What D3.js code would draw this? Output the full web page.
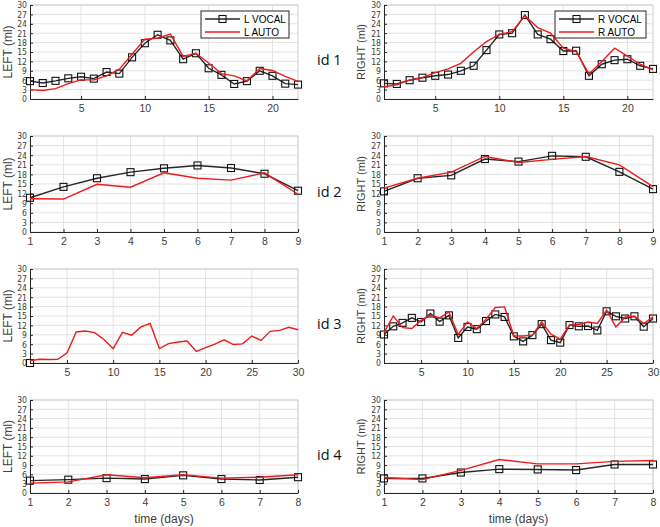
<!DOCTYPE html>
<html><head><meta charset="utf-8">
<script src="https://cdn.jsdelivr.net/npm/d3@7"></script>
<style>body{margin:0;background:#fff}svg{display:block}</style>
</head><body>
<svg id="chart" width="660" height="527"></svg>
<script>
// ---- data ----
const yTicks = [0,3,6,9,12,15,18,21,24,27,30];
const ids = ["id 1","id 2","id 3","id 4"];
const legendLeft = ["L VOCAL","L AUTO"];
const legendRight = ["R VOCAL","R AUTO"];
const xLabel = "time (days)";

const id1LVocal = [5.7,5.1,5.8,6.6,7.1,6.5,8.6,8.1,13.3,17.8,20.5,18.7,12.7,14.6,9.8,7.7,4.8,5.7,9.0,7.4,4.9,4.6];
const id1LAuto  = [3.0,2.7,3.3,4.9,6.1,6.1,7.4,9.5,14.3,19.1,19.4,20.7,13.6,14.6,11.5,8.1,7.4,5.8,9.7,9.1,7.2,5.6];
const id1RVocal = [5.0,4.8,6.0,6.8,7.4,7.8,9.0,10.6,15.6,20.6,21.0,26.8,20.6,19.1,15.3,15.4,7.4,11.1,12.4,12.7,10.6,9.6];
const id1RAuto  = [3.9,4.5,6.1,6.9,8.4,9.6,11.4,15.1,18.3,20.6,21.5,26.6,22.8,21.0,16.2,15.1,8.0,12.0,16.2,13.7,11.1,9.3];

const id2LVocal = [10.7,14.1,16.8,18.7,19.9,20.8,20.0,18.2,12.9];
const id2LAuto  = [10.4,10.3,14.9,14.0,18.5,16.8,16.2,18.5,11.8];
const id2RVocal = [12.7,16.8,17.7,22.8,22.0,23.8,23.5,18.8,13.4];
const id2RAuto  = [13.7,16.8,18.7,23.6,21.7,22.7,23.6,21.0,14.2];

const id3LVocal = [0];
const id3LAuto  = [0.7,1.2,1.1,1.2,3.2,9.9,10.2,9.7,7.5,4.6,9.8,8.9,11.5,12.6,4.6,6.2,6.7,7.0,3.7,4.9,6.0,7.4,5.9,6.1,8.6,7.2,10.1,10.4,11.4,10.6];
const id3RVocal = [9.1,11.7,12.8,14.4,13.1,15.8,13.2,15.2,8.0,11.5,10.8,13.4,15.5,14.7,8.5,6.9,8.9,12.4,7.3,6.5,12.1,11.7,11.8,10.4,16.5,14.9,14.2,14.9,11.6,14.2];
const id3RAuto  = [9.7,15.0,11.3,11.0,13.6,15.3,14.4,16.3,9.1,13.1,11.0,14.0,17.7,17.9,8.6,8.6,8.9,13.1,9.2,7.6,12.1,12.3,13.1,12.6,16.9,11.5,14.7,14.9,12.6,14.7];

const id4LVocal = [4.0,4.3,4.8,4.5,5.7,4.5,4.2,5.1];
const id4LAuto  = [3.2,3.6,5.9,4.9,5.9,4.8,5.1,5.9];
const id4RVocal = [4.7,4.7,6.6,7.7,7.6,7.4,9.2,9.2];
const id4RAuto  = [5.0,4.3,7.3,10.8,9.4,9.4,10.2,10.5];

const xDomains = [[1,22],[1,9],[1,30],[1,8]];
const xTickSets = [[5,10,15,20],[1,2,3,4,5,6,7,8,9],[5,10,15,20,25,30],[1,2,3,4,5,6,7,8]];

const panels = [
  {row:0,col:0,vocal:id1LVocal,auto:id1LAuto,title:"LEFT (ml)",legend:legendLeft},
  {row:0,col:1,vocal:id1RVocal,auto:id1RAuto,title:"RIGHT (ml)",legend:legendRight},
  {row:1,col:0,vocal:id2LVocal,auto:id2LAuto,title:"LEFT (ml)"},
  {row:1,col:1,vocal:id2RVocal,auto:id2RAuto,title:"RIGHT (ml)"},
  {row:2,col:0,vocal:id3LVocal,auto:id3LAuto,title:"LEFT (ml)"},
  {row:2,col:1,vocal:id3RVocal,auto:id3RAuto,title:"RIGHT (ml)"},
  {row:3,col:0,vocal:id4LVocal,auto:id4LAuto,title:"LEFT (ml)"},
  {row:3,col:1,vocal:id4RVocal,auto:id4RAuto,title:"RIGHT (ml)"}
];

// ---- layout ----
const colX = [[30,298],[384,653]];
const rowY = [[5,99],[136,232],[269,363],[400,493]];
const svg = d3.select("#chart");
const FONT = "Liberation Sans, Arial, Helvetica, sans-serif";
const NARROW = "Liberation Sans Narrow, DejaVu Sans Condensed, Liberation Sans, sans-serif";
const gridC = "#e3e3e3", axC = "#262626", txtC = "#404040";

panels.forEach(p => {
  const [x0,x1] = colX[p.col], [y0,y1] = rowY[p.row];
  const x = d3.scaleLinear().domain(xDomains[p.row]).range([x0,x1]);
  const y = d3.scaleLinear().domain([0,30]).range([y1,y0]);
  const g = svg.append("g");
  const xt = xTickSets[p.row];
  // grid
  g.selectAll(".gx").data(xt).join("line")
    .attr("x1",d=>x(d)).attr("x2",d=>x(d)).attr("y1",y0).attr("y2",y1)
    .attr("stroke",gridC).attr("stroke-width",1);
  g.selectAll(".gy").data(yTicks).join("line")
    .attr("x1",x0).attr("x2",x1).attr("y1",d=>y(d)).attr("y2",d=>y(d))
    .attr("stroke",gridC).attr("stroke-width",1);
  // box top/right
  g.append("path").attr("d",`M${x0},${y0}H${x1}V${y1}`).attr("fill","none").attr("stroke","#cfcfcf");
  // axes
  const yAxis = d3.axisLeft(y).tickValues(yTicks).tickFormat(d3.format("d")).tickSizeInner(-3).tickSizeOuter(0).tickPadding(3);
  const ya = g.append("g").attr("transform",`translate(${x0},0)`).call(yAxis);
  const xAxis = d3.axisBottom(x).tickValues(xt).tickFormat(d3.format("d")).tickSizeInner(-3).tickSizeOuter(0).tickPadding(6);
  const xa = g.append("g").attr("transform",`translate(0,${y1})`).call(xAxis);
  [ya,xa].forEach(a=>{
    a.select(".domain").attr("stroke",axC).attr("stroke-width",1);
    a.selectAll(".tick line").attr("stroke",axC);
    a.selectAll("text").attr("fill",txtC).attr("font-family",FONT).attr("font-size",10.5);
  });
  ya.selectAll("text").attr("font-family",NARROW).attr("font-size",8.6).attr("dy","0.34em");
  // y title
  g.append("text").attr("transform",`translate(${p.col===0?12:365},${(y0+y1)/2}) rotate(-90)`)
    .attr("text-anchor","middle").attr("font-family",FONT)
    .attr("font-size",p.col===0?12:11).attr("fill",txtC).text(p.title);
  // lines
  const line = d3.line().x((d,i)=>x(i+1)).y(d=>y(d));
  g.append("path").datum(p.vocal).attr("d",line).attr("fill","none")
    .attr("stroke","#262626").attr("stroke-width",1.4);
  g.selectAll(".m").data(p.vocal).join("rect")
    .attr("x",(d,i)=>x(i+1)-3.5).attr("y",d=>y(d)-3.5).attr("width",7).attr("height",7)
    .attr("fill","none").attr("stroke","#111").attr("stroke-width",1.1);
  g.append("path").datum(p.auto).attr("d",line).attr("fill","none")
    .attr("stroke","#ee1c1c").attr("stroke-width",1.4);
  // x label on bottom row
  if (p.row===3) {
    g.append("text").attr("x",(x0+x1)/2).attr("y",523).attr("text-anchor","middle")
      .attr("font-family",FONT).attr("font-size",12).attr("fill",txtC).text(xLabel);
  }
  // legend
  if (p.legend) {
    const lx = p.col===0 ? 201 : 555, ly = 11, lw = p.col===0 ? 88 : 91;
    const lg = g.append("g");
    lg.append("rect").attr("x",lx).attr("y",ly).attr("width",lw).attr("height",27)
      .attr("fill","#fff").attr("stroke","#262626").attr("stroke-width",1);
    [0,1].forEach(k=>{
      const yy = ly + 8 + k*13;
      lg.append("line").attr("x1",lx+4).attr("x2",lx+39).attr("y1",yy).attr("y2",yy)
        .attr("stroke",k===0?"#262626":"#ee1c1c").attr("stroke-width",1.4);
      if (k===0) lg.append("rect").attr("x",lx+21.5-3.5).attr("y",yy-3.5).attr("width",7).attr("height",7)
        .attr("fill","none").attr("stroke","#111").attr("stroke-width",1.1);
      lg.append("text").attr("x",lx+43).attr("y",yy+3.5).attr("font-family",FONT)
        .attr("font-size",10).attr("fill","#000").text(p.legend[k]);
    });
  }
});
// id labels
ids.forEach((t,i)=>{
  svg.append("text").attr("x",317).attr("y",(rowY[i][0]+rowY[i][1])/2+13)
    .attr("font-family","Open Sans, Liberation Sans, sans-serif").attr("font-size",14.5)
    .attr("fill","#111").text(t);
});
</script>
</body></html>
